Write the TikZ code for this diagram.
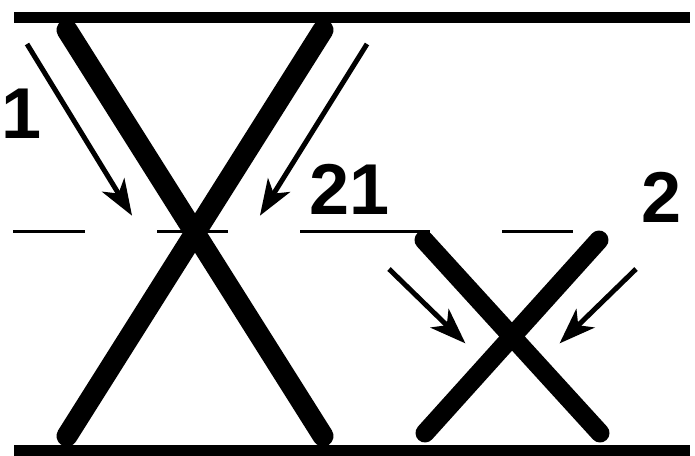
\documentclass[tikz,border=0pt]{standalone}
\usepackage{fontspec}
\setmainfont{Liberation Sans}
\usetikzlibrary{arrows.meta}
\tikzset{
  wall/.style={line width=11pt, line cap=butt},
  rod/.style={line width=21pt, line cap=round},
  smallrod/.style={line width=19pt, line cap=round},
  guide/.style={line width=3pt},
  flow/.style={line width=5pt, -{Stealth[length=36pt, width=26pt, inset=10pt]}, shorten >=-2pt},
  lab/.style={inner sep=0pt, font=\fontsize{72}{72}\selectfont\bfseries}
}
\begin{document}
\begin{tikzpicture}[x=1pt, y=-1pt]
\useasboundingbox (0,0) rectangle (695,455);
% walls
\coordinate (tl) at (14,17.5); \coordinate (tr) at (690,17.5);
\coordinate (bl) at (14,450); \coordinate (br) at (690,450);
\draw[wall] (tl) -- (tr);
\draw[wall] (bl) -- (br);
% big X
\coordinate (a1) at (67,30); \coordinate (a2) at (323,436);
\coordinate (b1) at (323,30); \coordinate (b2) at (67,436);
\draw[rod] (a1) -- (a2);
\draw[rod] (b1) -- (b2);
% small X
\coordinate (c1) at (424,240); \coordinate (c2) at (600,433);
\coordinate (d1) at (599,240); \coordinate (d2) at (425,433);
\draw[smallrod] (c1) -- (c2);
\draw[smallrod] (d1) -- (d2);
% guide dashes
\coordinate (g1a) at (13,231); \coordinate (g1b) at (85,231);
\coordinate (g2a) at (157,231); \coordinate (g2b) at (228,231);
\coordinate (g3a) at (300,231); \coordinate (g3b) at (430,231);
\coordinate (g4a) at (502,231); \coordinate (g4b) at (573,231);
\draw[guide] (g1a) -- (g1b);
\draw[guide] (g2a) -- (g2b);
\draw[guide] (g3a) -- (g3b);
\draw[guide] (g4a) -- (g4b);
% arrows
\coordinate (p1s) at (27,44); \coordinate (p1e) at (131,214);
\coordinate (p2s) at (367,44); \coordinate (p2e) at (261,214);
\coordinate (p3s) at (389,269); \coordinate (p3e) at (464,342);
\coordinate (p4s) at (636,269); \coordinate (p4e) at (561,342);
\draw[flow] (p1s) -- (p1e);
\draw[flow] (p2s) -- (p2e);
\draw[flow] (p3s) -- (p3e);
\draw[flow] (p4s) -- (p4e);
% labels
\node[lab] (l1) at (22,114) {1};
\node[lab] (l21) at (350,189) {21};
\node[lab] (l2) at (662,197) {2};
\end{tikzpicture}
\end{document}
